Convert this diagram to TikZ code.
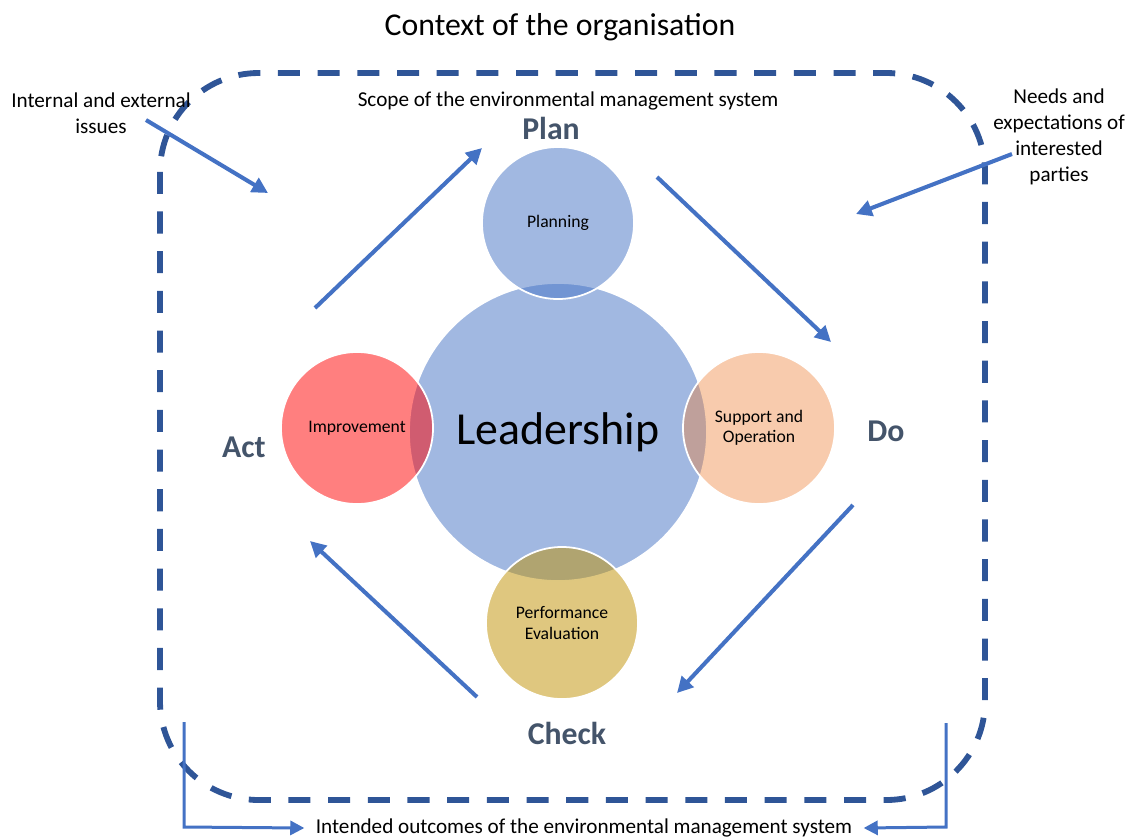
\documentclass[tikz,border=0pt]{standalone}
\usepackage{fontspec}
\setmainfont{Carlito}
\usetikzlibrary{arrows.meta}
\definecolor{dashblue}{HTML}{2F5597}
\definecolor{arrblue}{HTML}{4472C4}
\definecolor{slate}{HTML}{44546A}
\definecolor{cred}{HTML}{FF0000}
\definecolor{corange}{HTML}{ED7D31}
\definecolor{cgold}{HTML}{BF9000}
\begin{document}
\begin{tikzpicture}[x=0.567pt,y=-0.567pt,
  bigc/.style={circle, draw=white, line width=1pt, minimum size=169pt, inner sep=0pt, text opacity=1},
  smallc/.style={circle, draw=white, line width=1pt, minimum size=86.2pt, inner sep=0pt, text opacity=1, align=center, font=\fontsize{10}{11.5}\selectfont},
  phase/.style={font=\bfseries\fontsize{18}{22}\selectfont, text=slate},
  note/.style={font=\fontsize{12}{14.7}\selectfont, align=center},
  cyc/.style={draw=arrblue, line width=2.3pt, -{Triangle[length=9pt,width=9pt]}},
  outarr/.style={draw=arrblue, line width=1.7pt, -{Triangle[length=8pt,width=8pt]}},
  frame/.style={draw=dashblue, line width=3.3pt, dash pattern=on 12.5pt off 10pt, rounded corners=56pt}
]
\useasboundingbox (0,0) rectangle (1139,839);

% dashed frame
\draw[frame] (160,73) rectangle (985,800);

% circles
\node[bigc, fill=arrblue, fill opacity=0.5, font=\fontsize{26}{30}\selectfont] (lead) at (558,432) {Leadership};
\node[smallc, fill=arrblue, fill opacity=0.5] (plan) at (558,223) {\raisebox{-3pt}{Planning}};
\node[smallc, fill=cred, fill opacity=0.5] (impr) at (357,428) {Improvement};
\node[smallc, fill=corange, fill opacity=0.4] (supp) at (759,428) {Support and\\Operation};
\node[smallc, fill=cgold, fill opacity=0.5] (perf) at (562,623) {Performance\\Evaluation};

% texts
\node[font=\fontsize{18}{22}\selectfont] (title) at (560,27) {Context of the organisation};
\node[font=\fontsize{12}{14}\selectfont] (scope) at (568,101) {Scope of the environmental management system};
\node[phase] (lplan) at (551,128) {Plan};
\node[phase] (ldo) at (886,431) {Do};
\node[phase] (lact) at (244,447) {Act};
\node[phase] (lcheck) at (567,733) {Check};
\node[note] (issues) at (101,113) {Internal and external\\issues};
\node[note] (needs) at (1059,137) {Needs and\\expectations of\\interested\\parties};
\node[font=\fontsize{12}{14}\selectfont] (outc) at (584,828) {Intended outcomes of the environmental management system};

% coordinates
\coordinate (i1) at (146,120);  \coordinate (i2) at (268,193);
\coordinate (n1) at (1012,154); \coordinate (n2) at (856,214);
\coordinate (a1) at (315,308);  \coordinate (a2) at (482,148);
\coordinate (p1) at (657,177);  \coordinate (p2) at (831,342);
\coordinate (d1) at (853,505);  \coordinate (d2) at (677,693);
\coordinate (c1) at (477,697);  \coordinate (c2) at (310,541);
\coordinate (bl1) at (184,722); \coordinate (bl2) at (184,827);
\coordinate (br1) at (946,723); \coordinate (br2) at (946,827);

\draw[cyc] (i1) -- (i2);
\draw[cyc] (n1) -- (n2);
\draw[cyc] (a1) -- (a2);
\draw[cyc] (p1) -- (p2);
\draw[cyc] (d1) -- (d2);
\draw[cyc] (c1) -- (c2);
\draw[outarr] (bl1) -- (bl2) -- ([xshift=-3pt]outc.west);
\draw[outarr] (br1) -- (br2) -- ([xshift=3pt]outc.east);
\end{tikzpicture}
\end{document}
